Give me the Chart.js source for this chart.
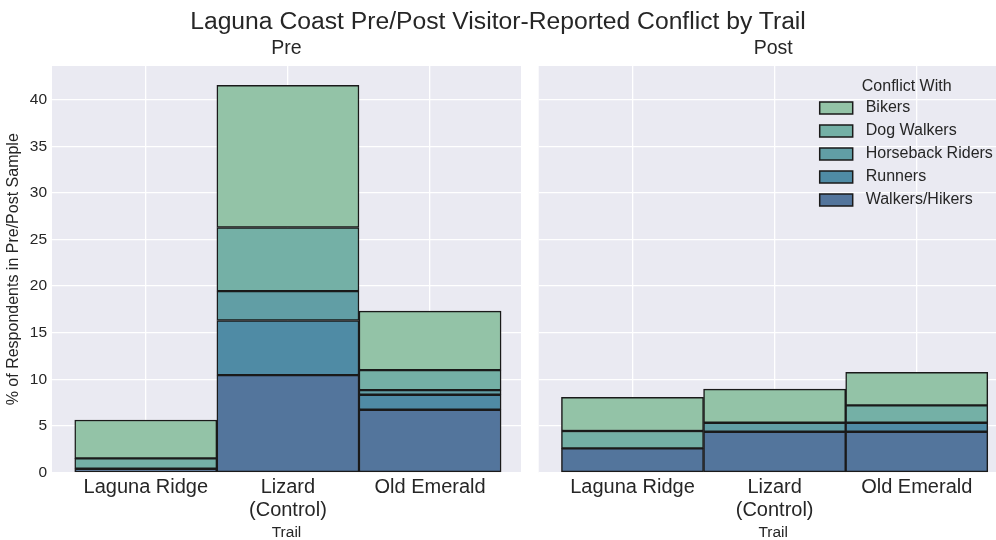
<!DOCTYPE html>
<html>
<head>
<meta charset="utf-8">
<script src="https://cdn.jsdelivr.net/npm/chart.js@4"></script>
<style>
  body { margin: 0; background: #fff; }
  #wrap { position: relative; width: 996px; height: 540px; overflow: hidden; }
  #mainTitle {
    position: absolute; left: 0; top: 7px; width: 996px; text-align: center;
    font: 24.7px "Liberation Sans", Arial, sans-serif; color: #262626; z-index: 2;
  }
  canvas { position: absolute; top: 0; }
  #preChart { left: 0; }
  #postChart { left: 530px; }
</style>
</head>
<body>
<div id="wrap">
  <div id="mainTitle">Laguna Coast Pre/Post Visitor-Reported Conflict by Trail</div>
  <canvas id="preChart" width="530" height="540"></canvas>
  <canvas id="postChart" width="530" height="540"></canvas>
</div>
<script>
const trails = ["Laguna Ridge", "Lizard (Control)", "Old Emerald"];
const groups = ["Walkers/Hikers", "Runners", "Horseback Riders", "Dog Walkers", "Bikers"];
const groupColors = ["#53759c", "#4f8ba5", "#619ea5", "#74b0a6", "#93c3a7"];
const yTicks = [0, 5, 10, 15, 20, 25, 30, 35, 40];

// % of respondents, stacked bottom to top in the order of `groups`
const preWalkers = [0.4, 10.45, 6.73];
const preRunners = [0, 5.86, 1.61];
const preHorseback = [0, 3.14, 0.5];
const preDogWalkers = [1.12, 6.83, 2.15];
const preBikers = [4.11, 15.25, 6.32];

const postWalkers = [2.59, 4.37, 4.37];
const postRunners = [0, 0, 0.97];
const postHorseback = [0, 0.97, 0];
const postDogWalkers = [1.86, 0, 1.86];
const postBikers = [3.61, 3.61, 3.54];

const preSeries = [preWalkers, preRunners, preHorseback, preDogWalkers, preBikers];
const postSeries = [postWalkers, postRunners, postHorseback, postDogWalkers, postBikers];

const FONT = '"Liberation Sans", Arial, sans-serif';
const TEXT = "#262626";

const totals = s => trails.map((t, i) => s.reduce((a, arr) => a + arr[i], 0));
const yMax = Math.max(...totals(preSeries), ...totals(postSeries)) * 1.05;

const bgPlugin = {
  id: "plotBg",
  beforeDraw(chart) {
    const { ctx, chartArea: a } = chart;
    ctx.save();
    ctx.fillStyle = "#eaeaf2";
    ctx.fillRect(a.left, a.top, a.right - a.left, a.bottom - a.top);
    ctx.restore();
  }
};

const legendPlugin = {
  id: "insideLegend",
  afterDatasetsDraw(chart, args, opts) {
    if (!opts.show) return;
    const { ctx, chartArea } = chart;
    const x0 = chartArea.left + 281, y0 = chartArea.top + 21;
    ctx.save();
    ctx.font = "16px " + FONT;
    ctx.fillStyle = TEXT;
    ctx.textAlign = "center";
    ctx.textBaseline = "middle";
    ctx.fillText("Conflict With", x0 + 87, y0);
    ctx.textAlign = "left";
    chart.data.datasets.slice().reverse().forEach((ds, i) => {
      const y = y0 + 21 + i * 23;
      ctx.fillStyle = ds.backgroundColor;
      ctx.fillRect(x0, y - 6, 33, 12);
      ctx.strokeStyle = "#1a1a1a";
      ctx.lineWidth = 1.5;
      ctx.strokeRect(x0, y - 6, 33, 12);
      ctx.fillStyle = TEXT;
      ctx.fillText(ds.label, x0 + 46, y);
    });
    ctx.restore();
  }
};

function makeChart(id, title, series, isLeft) {
  const datasets = groups.map((g, k) => ({
    label: g,
    data: trails.map((t, i) => ({ x: i, y: series[k][i] })),
    backgroundColor: groupColors[k],
    borderColor: "#1a1a1a",
    borderWidth: 1.5,
    borderSkipped: false,
    barPercentage: 1,
    categoryPercentage: 1
  }));

  return new Chart(document.getElementById(id), {
    type: "bar",
    data: { datasets },
    plugins: [bgPlugin, legendPlugin],
    options: {
      responsive: false,
      animation: false,
      devicePixelRatio: 1,
      layout: { padding: isLeft ? { left: 0, right: 9, top: 0, bottom: 0 } : { left: 8.7, right: 52.3, top: 0, bottom: 0 } },
      plugins: {
        legend: { display: false },
        tooltip: { enabled: false },
        insideLegend: { show: !isLeft },
        title: {
          display: true,
          fullSize: false,
          text: title,
          color: TEXT,
          font: { family: FONT, size: 19.5, weight: "normal" },
          padding: { top: 37, bottom: 5.6 }
        }
      },
      scales: {
        x: {
          type: "linear",
          stacked: true,
          offset: false,
          min: -0.66,
          max: 2.64,
          afterBuildTicks: s => { s.ticks = trails.map((t, i) => ({ value: i })); },
          afterFit: s => { s.height = 67.5; },
          grid: { color: "#ffffff", lineWidth: 1.3, drawTicks: false, offset: false },
          border: { display: false },
          ticks: {
            padding: 3,
            color: TEXT,
            font: { family: FONT, size: 20, lineHeight: 1.15 },
            callback: v => trails[v] !== undefined ? trails[v].replace(" (", "\n(").split("\n") : ""
          },
          title: {
            display: true,
            text: "Trail",
            color: TEXT,
            font: { family: FONT, size: 15.5, lineHeight: 1 },
            padding: { top: 0, bottom: 0 }
          }
        },
        y: {
          stacked: true,
          min: 0,
          max: yMax,
          afterBuildTicks: s => { s.ticks = yTicks.map(v => ({ value: v })); },
          afterFit: s => { s.width = isLeft ? 52 : 0; },
          grid: { color: "#ffffff", lineWidth: 1.3, drawTicks: false },
          border: { display: false },
          ticks: {
            display: isLeft,
            padding: 5,
            color: TEXT,
            font: { family: FONT, size: 15.5 }
          },
          title: {
            display: isLeft,
            text: "% of Respondents in Pre/Post Sample",
            color: TEXT,
            font: { family: FONT, size: 16 },
            padding: { top: 4, bottom: 4 }
          }
        }
      }
    }
  });
}

makeChart("preChart", "Pre", preSeries, true);
makeChart("postChart", "Post", postSeries, false);
</script>
</body>
</html>
